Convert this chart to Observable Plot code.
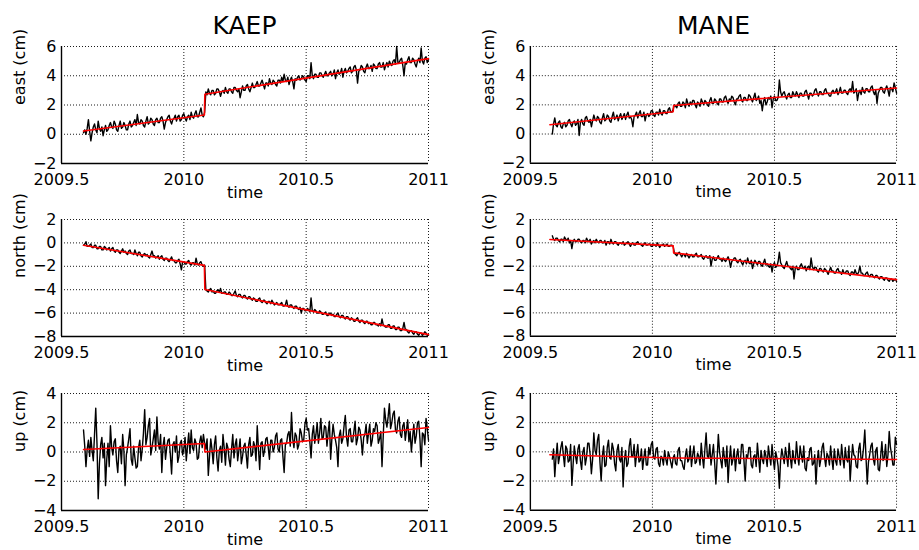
<!DOCTYPE html>
<html>
<head>
<meta charset="utf-8">
<script src="https://cdn.jsdelivr.net/npm/d3@7"></script>
<script src="https://cdn.jsdelivr.net/npm/@observablehq/plot@0.6"></script>
<style>
  html, body { margin: 0; padding: 0; background: #fff; }
  #fig { position: relative; width: 919px; height: 550px; overflow: hidden; font-family: "DejaVu Sans", sans-serif; }
  .title { position: absolute; width: 367px; text-align: center; font-size: 25px; line-height: 25px; color: #000; }
  .cell { position: absolute; }
</style>
</head>
<body>
<div id="fig"></div>
<script>
// Sampling times (decimal years)
const times = [
  2009.590,2009.595,2009.600,2009.605,2009.610,2009.615,2009.620,2009.625,2009.630,2009.635,
  2009.640,2009.645,2009.650,2009.655,2009.660,2009.665,2009.670,2009.675,2009.680,2009.685,
  2009.690,2009.695,2009.700,2009.705,2009.710,2009.715,2009.720,2009.725,2009.730,2009.735,
  2009.740,2009.745,2009.750,2009.755,2009.760,2009.765,2009.770,2009.775,2009.780,2009.785,
  2009.790,2009.795,2009.800,2009.805,2009.810,2009.815,2009.820,2009.825,2009.830,2009.835,
  2009.840,2009.845,2009.850,2009.855,2009.860,2009.865,2009.870,2009.875,2009.880,2009.885,
  2009.890,2009.895,2009.900,2009.905,2009.910,2009.915,2009.920,2009.925,2009.930,2009.935,
  2009.940,2009.945,2009.950,2009.955,2009.960,2009.965,2009.970,2009.975,2009.980,2009.985,
  2009.990,2009.995,2010.000,2010.005,2010.010,2010.015,2010.020,2010.025,2010.030,2010.035,
  2010.040,2010.045,2010.050,2010.055,2010.060,2010.065,2010.070,2010.075,2010.080,2010.085,
  2010.090,2010.095,2010.100,2010.105,2010.110,2010.115,2010.120,2010.125,2010.130,2010.135,
  2010.140,2010.145,2010.150,2010.155,2010.160,2010.165,2010.170,2010.175,2010.180,2010.185,
  2010.190,2010.195,2010.200,2010.205,2010.210,2010.215,2010.220,2010.225,2010.230,2010.235,
  2010.240,2010.245,2010.250,2010.255,2010.260,2010.265,2010.270,2010.275,2010.280,2010.285,
  2010.290,2010.295,2010.300,2010.305,2010.310,2010.315,2010.320,2010.325,2010.330,2010.335,
  2010.340,2010.345,2010.350,2010.355,2010.360,2010.365,2010.370,2010.375,2010.380,2010.385,
  2010.390,2010.395,2010.400,2010.405,2010.410,2010.415,2010.420,2010.425,2010.430,2010.435,
  2010.440,2010.445,2010.450,2010.455,2010.460,2010.465,2010.470,2010.475,2010.480,2010.485,
  2010.490,2010.495,2010.500,2010.505,2010.510,2010.515,2010.520,2010.525,2010.530,2010.535,
  2010.540,2010.545,2010.550,2010.555,2010.560,2010.565,2010.570,2010.575,2010.580,2010.585,
  2010.590,2010.595,2010.600,2010.605,2010.610,2010.615,2010.620,2010.625,2010.630,2010.635,
  2010.640,2010.645,2010.650,2010.655,2010.660,2010.665,2010.670,2010.675,2010.680,2010.685,
  2010.690,2010.695,2010.700,2010.705,2010.710,2010.715,2010.720,2010.725,2010.730,2010.735,
  2010.740,2010.745,2010.750,2010.755,2010.760,2010.765,2010.770,2010.775,2010.780,2010.785,
  2010.790,2010.795,2010.800,2010.805,2010.810,2010.815,2010.820,2010.825,2010.830,2010.835,
  2010.840,2010.845,2010.850,2010.855,2010.860,2010.865,2010.870,2010.875,2010.880,2010.885,
  2010.890,2010.895,2010.900,2010.905,2010.910,2010.915,2010.920,2010.925,2010.930,2010.935,
  2010.940,2010.945,2010.950,2010.955,2010.960,2010.965,2010.970,2010.975,2010.980,2010.985,
  2010.990,2010.995,2011.000
];

// KAEP station (cm)
const kaepEast = [
  0.1,0.3,0.0,0.4,1.0,0.2,-0.45,0.1,0.5,0.7,
  0.3,0.1,0.9,0.4,0.2,0.5,-0.1,0.3,0.6,0.2,
  0.3,0.6,0.8,0.5,0.4,0.9,0.7,0.3,0.2,0.6,
  0.9,0.4,0.5,0.8,0.6,0.3,0.3,0.7,0.9,0.5,
  0.6,0.8,1.0,0.6,1.35,0.8,0.7,1.0,0.9,0.6,
  0.5,0.9,1.2,0.7,0.8,1.1,1.0,0.7,0.6,1.0,
  1.1,0.8,0.8,1.1,1.2,0.9,0.35,0.8,1.0,1.2,
  1.3,0.9,0.7,1.0,1.1,1.3,0.9,1.2,1.3,0.9,
  1.0,1.3,1.4,1.1,0.9,1.2,1.3,1.0,1.5,1.2,
  1.1,1.4,1.6,1.2,1.2,1.5,1.8,1.3,1.2,1.5,
  2.9,2.7,3.1,2.8,2.7,3.0,3.0,2.7,2.8,3.1,
  3.1,2.9,2.6,2.9,3.0,2.8,3.2,2.9,2.8,3.1,
  3.1,2.9,2.8,3.2,3.2,3.0,2.9,3.1,2.5,2.9,
  3.3,3.0,3.0,3.3,3.4,3.1,2.9,3.2,3.5,3.2,
  3.2,3.4,3.6,3.3,3.3,3.5,3.7,3.4,3.1,3.5,
  3.5,3.3,3.8,3.5,3.4,3.7,3.6,3.4,3.3,3.7,
  3.7,3.5,3.9,3.6,4.1,3.7,3.6,3.9,3.4,3.7,
  3.9,3.6,3.1,3.8,3.7,3.9,4.0,3.7,3.8,4.0,
  3.9,3.7,3.6,4.0,4.0,3.8,4.9,4.0,3.8,4.1,
  4.1,3.9,3.9,4.2,4.2,4.0,3.9,4.1,4.3,4.0,
  4.0,4.2,4.3,4.0,4.1,4.4,3.8,4.2,4.4,4.1,
  4.2,4.5,3.9,4.3,4.5,4.2,4.3,4.5,4.6,4.2,
  4.3,4.6,4.7,4.4,3.5,4.3,4.4,4.7,4.6,4.3,
  4.2,4.6,4.8,4.5,4.5,4.7,4.3,4.8,4.7,4.5,
  4.5,4.8,4.9,4.6,4.6,4.9,4.4,4.7,4.9,4.6,
  5.0,4.8,4.7,5.0,5.1,4.8,6.0,4.9,4.9,5.1,
  5.2,4.7,4.0,4.9,4.8,5.1,5.3,4.9,4.9,5.2,
  5.1,4.8,4.6,5.0,5.2,4.9,5.9,5.0,4.8,5.2,
  5.3,4.9,5.1
];
const kaepNorth = [
  -0.2,-0.1,0.1,-0.3,-0.3,-0.2,-0.1,-0.4,-0.4,-0.2,
  -0.2,-0.5,-0.5,-0.3,-0.3,-0.6,-0.6,-0.3,-0.4,-0.6,
  -0.5,-0.4,-0.7,-0.5,-0.4,-0.7,-0.8,-0.6,-0.6,-0.8,
  -0.9,-0.7,-0.5,-0.8,-0.7,-0.9,-1.0,-0.7,-0.6,-0.9,
  -0.9,-1.0,-0.6,-0.9,-1.1,-0.8,-0.8,-1.1,-1.2,-1.0,
  -0.9,-1.1,-1.0,-1.2,-1.3,-1.0,-0.7,-1.1,-1.1,-1.3,
  -1.2,-1.1,-1.4,-1.2,-1.1,-1.4,-1.5,-1.3,-1.3,-1.5,
  -1.6,-1.4,-1.2,-1.5,-1.5,-1.7,-1.7,-1.5,-1.4,-1.8,
  -2.3,-1.6,-1.6,-1.8,-1.8,-1.6,-1.5,-1.8,-1.9,-1.7,
  -1.7,-1.9,-1.3,-1.8,-1.9,-1.7,-1.6,-1.9,-2.0,-1.9,
  -4.0,-4.1,-4.2,-4.0,-3.9,-4.2,-4.1,-4.3,-4.3,-4.1,
  -4.0,-4.2,-3.9,-4.3,-4.3,-4.2,-4.2,-4.4,-4.4,-4.2,
  -4.3,-4.5,-4.5,-4.3,-4.1,-4.5,-4.6,-4.4,-4.4,-4.6,
  -4.7,-4.5,-4.5,-4.7,-4.8,-4.6,-4.6,-4.8,-4.9,-4.7,
  -4.8,-5.0,-5.0,-4.8,-4.7,-5.0,-5.1,-4.9,-4.9,-5.1,
  -5.2,-5.0,-5.0,-5.2,-4.9,-5.1,-5.3,-5.2,-5.1,-5.3,
  -5.3,-5.2,-5.1,-5.4,-5.4,-5.3,-4.9,-5.4,-5.5,-5.3,
  -5.3,-5.5,-5.6,-5.4,-5.4,-5.6,-5.7,-5.5,-6.0,-5.6,
  -5.6,-5.8,-5.8,-5.6,-5.7,-5.9,-4.7,-5.8,-5.9,-5.7,
  -5.8,-6.0,-6.0,-5.8,-5.9,-6.1,-6.1,-6.0,-5.9,-6.2,
  -6.2,-6.0,-6.0,-6.2,-6.1,-6.3,-6.3,-6.1,-6.0,-6.3,
  -6.4,-6.2,-6.2,-6.4,-6.5,-6.3,-6.3,-6.5,-6.6,-6.4,
  -6.5,-6.7,-6.7,-6.5,-6.4,-6.7,-6.8,-6.6,-6.6,-6.8,
  -6.9,-6.7,-6.7,-6.9,-6.8,-7.0,-7.0,-6.8,-6.8,-7.0,
  -7.0,-7.1,-6.9,-7.1,-6.5,-7.0,-7.1,-7.2,-7.2,-7.0,
  -7.0,-7.3,-7.3,-7.1,-7.1,-7.4,-7.4,-7.2,-7.2,-7.5,
  -7.5,-7.3,-6.8,-7.4,-7.4,-7.6,-7.7,-7.5,-7.5,-7.7,
  -7.8,-7.6,-7.6,-7.8,-7.9,-7.7,-7.7,-7.9,-7.8,-7.6,
  -7.7,-7.9,-7.9
];
const kaepUp = [
  1.5,0.4,-1.0,0.2,0.8,-0.3,1.0,0.1,-0.6,1.2,
  3.0,0.6,-3.2,-0.8,0.5,1.0,-0.4,0.6,-2.3,-0.5,
  0.6,-1.0,1.8,0.3,-0.2,0.7,0.9,-0.6,-1.4,0.2,
  0.4,-0.8,1.2,0.1,-2.3,-0.2,0.3,0.9,1.6,-0.5,
  -0.9,0.4,-0.4,-1.1,-1.0,0.3,0.8,-0.6,0.2,1.3,
  2.9,0.5,1.0,1.8,2.3,-0.2,0.3,0.9,1.5,0.1,
  2.4,0.7,0.2,1.2,-1.4,0.4,1.0,-0.5,0.3,0.8,
  0.9,-0.2,-1.5,0.5,0.7,0.0,1.1,-0.7,-0.3,0.6,
  0.8,-0.2,0.2,1.0,-0.6,0.4,1.3,-0.1,1.5,0.3,
  0.1,0.9,0.6,-0.5,-0.4,0.7,1.1,0.3,1.2,0.6,
  0.2,0.9,-1.6,-0.3,0.9,0.2,-0.8,0.5,1.1,-0.4,
  -1.3,0.1,0.4,-0.7,1.2,0.3,-0.9,0.6,0.3,-0.5,
  -1.0,0.2,1.2,-0.4,0.5,0.9,-0.6,0.1,0.9,-0.8,
  -0.3,0.4,0.6,-0.2,-1.1,0.5,1.0,-0.3,-0.2,0.7,
  0.4,-0.6,1.8,0.2,-1.2,0.6,0.7,-0.3,0.1,0.9,
  1.0,0.3,-0.5,0.8,0.8,0.0,0.3,1.1,1.3,0.2,
  0.0,0.8,0.9,-0.3,-1.4,0.5,0.6,1.2,1.4,0.4,
  2.7,0.9,0.3,1.3,1.1,0.2,0.5,1.6,1.3,0.7,
  0.8,1.9,2.3,1.5,1.6,0.7,-0.4,1.2,1.8,0.6,
  1.2,2.0,0.6,1.3,2.3,0.9,1.0,1.8,1.7,0.4,
  1.4,2.1,-0.5,0.9,1.9,1.2,0.8,0.3,-1.0,1.1,
  1.5,0.6,0.9,1.8,2.5,1.0,0.4,1.5,1.6,0.7,
  0.7,1.4,2.1,0.5,0.9,1.7,1.5,0.8,-0.2,1.0,
  1.2,1.9,0.6,1.3,1.9,0.4,0.8,1.6,1.4,2.0,
  1.8,0.6,0.9,1.4,-1.0,1.1,3.0,2.2,1.7,2.4,
  3.3,1.6,2.0,2.6,2.8,1.5,1.3,2.1,2.4,1.2,
  1.0,1.8,2.0,0.8,1.5,2.2,0.7,1.4,0.0,1.0,
  1.9,0.6,1.1,2.0,2.1,0.9,-1.0,1.3,1.2,0.5,
  2.3,1.6,0.8
];

// MANE station (cm)
const maneEast = [
  0.0,0.7,1.1,0.6,0.5,0.8,0.9,0.5,0.4,0.7,
  0.8,0.5,0.6,0.9,1.0,0.7,0.5,0.8,0.9,0.6,
  0.7,1.0,-0.1,0.8,1.0,0.7,0.6,1.1,1.2,0.9,
  0.8,1.0,0.5,0.9,1.3,1.0,0.9,1.2,1.1,0.8,
  0.7,1.1,1.4,0.9,1.0,1.3,1.2,0.9,0.8,1.2,
  1.5,1.0,1.1,1.3,0.9,1.2,1.4,1.0,1.2,1.4,
  1.0,1.3,1.5,1.1,1.2,1.0,0.5,1.2,1.3,1.5,
  1.1,1.4,1.6,1.2,1.2,1.5,0.9,1.3,1.4,1.2,
  1.3,1.6,1.6,1.3,1.2,1.5,1.5,1.3,1.7,1.4,
  1.3,1.6,1.6,1.4,1.4,1.7,1.8,1.5,1.5,1.7,
  2.0,1.9,1.8,2.1,2.2,1.9,1.9,2.2,2.1,1.8,
  2.4,2.1,1.9,2.2,2.0,2.3,2.3,2.0,1.8,2.2,
  2.1,1.9,2.4,2.2,2.0,2.3,2.2,2.0,1.9,2.3,
  2.5,2.1,2.1,2.4,2.3,2.1,2.0,2.4,2.4,2.2,
  2.2,2.5,2.6,2.3,2.1,2.4,2.3,2.6,2.5,2.2,
  2.0,2.4,2.4,2.6,2.7,2.3,2.2,2.5,2.5,2.3,
  2.3,2.7,2.6,2.4,2.2,2.5,2.8,2.3,2.4,2.6,
  2.1,2.3,1.6,2.2,2.5,2.0,2.2,2.5,2.4,2.6,
  1.8,2.4,2.6,2.3,2.3,2.5,3.7,2.9,2.6,2.8,
  2.9,2.6,2.4,2.7,2.8,2.5,2.5,2.9,2.7,2.6,
  2.9,2.7,2.5,2.8,2.8,2.6,2.6,2.9,3.0,2.7,
  2.4,2.8,2.8,2.6,2.7,3.0,3.1,2.8,2.6,2.9,
  2.9,2.7,2.7,3.0,3.1,2.8,2.8,2.6,2.6,2.9,
  3.0,2.8,2.9,3.1,2.7,2.9,3.2,2.8,2.8,3.0,
  3.0,2.8,2.7,3.0,3.1,2.9,3.6,2.8,2.9,3.1,
  2.3,2.8,3.0,2.7,3.2,2.9,2.8,3.1,3.1,2.9,
  2.9,3.2,3.3,2.9,2.7,3.0,2.1,2.8,3.0,3.2,
  3.2,2.9,2.8,3.1,3.3,3.0,2.6,3.2,3.1,2.9,
  3.5,3.2,2.8
];
const maneNorth = [
  0.6,0.3,0.2,0.4,0.4,0.2,0.1,0.3,0.3,0.1,
  0.5,0.3,0.2,0.4,0.0,0.2,-0.5,0.1,0.3,0.1,
  0.1,0.3,0.3,0.1,0.0,0.2,0.2,0.0,0.4,0.2,
  0.1,0.3,-0.1,0.1,0.2,0.0,0.3,0.1,0.0,0.2,
  0.2,0.0,0.0,0.2,-0.2,0.1,0.1,-0.1,0.3,0.0,
  -0.1,0.1,0.1,-0.1,-0.2,0.0,0.0,-0.1,0.1,-0.2,
  -0.1,0.0,0.1,-0.1,-0.3,-0.1,0.0,-0.2,-0.2,0.0,
  0.1,-0.1,-0.1,-0.2,-0.3,-0.1,0.0,-0.2,-0.2,-0.1,
  -0.1,-0.3,-0.3,-0.1,-0.2,-0.3,0.0,-0.2,-0.4,-0.2,
  -0.2,-0.1,-0.3,-0.2,-0.1,-0.3,-0.3,-0.2,-0.2,-0.3,
  -0.9,-1.0,-1.1,-0.9,-0.8,-1.0,-1.2,-1.0,-1.0,-1.2,
  -0.9,-1.1,-1.3,-1.1,-1.0,-1.2,-1.2,-1.0,-0.9,-1.2,
  -1.2,-1.1,-1.0,-1.3,-1.4,-1.2,-1.1,-1.3,-1.3,-1.1,
  -2.0,-1.4,-1.2,-1.5,-1.5,-1.3,-1.1,-1.4,-1.4,-1.6,
  -1.3,-1.5,-1.6,-1.4,-1.2,-1.5,-2.1,-1.6,-1.5,-1.3,
  -1.3,-1.6,-1.7,-1.5,-1.4,-1.7,-1.9,-1.6,-1.5,-1.8,
  -1.3,-1.7,-1.8,-1.5,-2.2,-1.8,-1.5,-1.7,-1.9,-1.6,
  -1.6,-1.9,-2.0,-1.7,-1.4,-1.9,-1.8,-2.0,-2.1,-1.8,
  -2.5,-1.9,-1.7,-2.1,-2.0,-1.6,-0.8,-1.7,-1.9,-2.1,
  -2.2,-1.9,-1.6,-2.0,-2.0,-2.2,-2.3,-2.0,-3.1,-2.2,
  -2.0,-2.3,-2.3,-2.0,-1.8,-2.1,-2.2,-2.0,-2.4,-2.1,
  -2.0,-2.3,-1.3,-2.0,-2.3,-2.1,-2.1,-2.4,-2.5,-2.2,
  -2.2,-2.4,-2.5,-2.2,-2.3,-2.5,-2.7,-2.4,-2.1,-2.4,
  -2.4,-2.6,-2.6,-2.3,-2.2,-2.5,-2.5,-2.7,-2.3,-2.6,
  -2.6,-2.4,-2.4,-2.7,-2.8,-2.5,-2.5,-2.7,-2.3,-2.6,
  -2.7,-2.5,-2.0,-2.6,-2.6,-2.8,-2.8,-2.6,-2.5,-2.8,
  -2.9,-2.7,-2.7,-2.9,-3.0,-2.8,-2.8,-3.0,-3.1,-2.9,
  -2.9,-3.1,-3.2,-3.0,-3.0,-3.2,-3.3,-3.1,-3.1,-3.3,
  -3.2,-3.1,-3.3
];
const maneUp = [
  -0.5,0.2,-1.7,-0.4,0.6,-0.8,-0.3,0.3,0.7,-0.2,
  -1.0,0.4,0.2,-0.7,-0.6,0.5,-2.3,-0.9,0.4,-0.3,
  -0.8,0.2,0.5,-0.6,-1.2,0.0,0.3,-0.9,-0.4,0.6,
  0.6,-0.2,-1.5,-0.5,1.3,0.1,-0.2,0.8,1.2,-0.7,
  -2.0,-0.3,0.4,-1.0,-0.9,0.3,0.8,-0.4,-0.5,0.6,
  0.2,-0.8,-1.3,0.1,0.5,-0.5,-0.7,0.3,-2.4,-0.6,
  0.1,-1.0,-0.8,0.4,0.9,-0.3,-0.3,0.5,-1.0,-0.2,
  0.5,-0.7,-0.6,0.2,-1.2,-0.4,0.2,-0.9,-0.9,0.3,
  -0.2,0.5,0.7,-0.4,-0.5,0.2,0.3,-0.8,-1.0,-0.3,
  -0.4,-0.9,0.1,-0.5,-0.9,0.0,-0.3,-0.7,-1.1,-0.4,
  -0.2,-0.8,-0.9,0.1,0.3,-0.6,-0.6,-1.0,-1.2,-0.3,
  0.2,-0.7,-0.5,0.4,-1.0,-0.2,0.4,-0.8,-0.7,-0.1,
  -0.3,-0.9,0.6,-0.4,-1.1,0.2,1.3,-0.3,-0.4,0.5,
  -0.9,-0.2,0.5,-0.8,-2.2,-0.5,1.2,0.0,-0.6,-1.1,
  0.3,-0.4,-1.0,0.4,-2.1,-0.6,0.4,-0.9,-0.5,0.2,
  -1.3,-0.3,0.2,-0.8,-0.8,0.5,0.5,-0.6,-2.0,-0.2,
  -0.4,0.3,0.3,-0.9,-1.1,-0.3,-0.2,-1.0,0.6,-0.4,
  -1.4,0.1,-0.5,-0.8,0.1,-0.3,-1.0,0.4,-0.3,-0.9,
  0.5,-0.5,-1.2,0.0,-0.4,-1.0,-2.5,-0.6,0.2,-0.3,
  -0.8,0.3,-0.3,-1.0,0.6,-0.4,-1.1,0.1,-0.5,-0.8,
  0.7,-0.3,-0.9,0.4,-0.2,-0.7,0.4,-1.1,-1.3,-0.4,
  -0.6,0.2,0.3,-0.9,-0.8,-0.2,-2.2,-0.6,0.1,-1.0,
  -0.5,0.3,0.6,-0.4,-1.0,-0.1,-0.3,-0.9,0.4,-0.5,
  -1.2,0.2,-0.6,-0.9,0.2,-0.3,-0.9,0.5,-0.4,-1.1,
  0.3,-0.5,-0.7,0.4,-2.0,-0.6,0.5,-0.2,-0.3,-1.0,
  -1.1,0.2,0.6,-0.6,-0.5,0.3,1.5,-0.4,-2.2,-0.7,
  -0.2,0.4,0.6,-0.5,-0.9,0.1,0.3,-1.2,-1.3,-0.3,
  0.7,-0.6,-0.4,0.5,-1.0,-0.2,1.4,0.3,-0.2,-0.9,
  -0.9,1.0,0.5
];

// Fitted models (red)
const kaepFitTimes = [2009.59, 2010.084, 2010.086, 2011.0];
const kaepFitEast  = [0.22, 1.32, 2.74, 5.17];
const kaepFitNorth = [-0.2, -1.92, -3.98, -7.84];
const kaepFitUp    = [0.17, 0.58, 0.0, 1.68];
const maneFitTimes = [2009.58, 2010.085, 2010.087, 2011.0];
const maneFitEast  = [0.64, 1.53, 1.96, 3.15];
const maneFitNorth = [0.28, -0.26, -0.86, -3.15];
const maneFitUp    = [-0.2, -0.42, -0.42, -0.52];

// Axes
const xTicks = [2009.5, 2010, 2010.5, 2011];
const eastTicks = [-2, 0, 2, 4, 6];
const northTicks = [-8, -6, -4, -2, 0, 2];
const upTicks = [-4, -2, 0, 2, 4];
const stations = ["KAEP", "MANE"];
const yLabels = ["east (cm)", "north (cm)", "up (cm)"];

const fmt = d => d < 0 ? "\u2212" + Math.abs(d) : String(d);

function panel(values, fitT, fitV, ticks, ylabel, col) {
  const ml = col === 0 ? 61 : 70;
  const mr = 460 - ml - 367;
  const data = times.map((t, i) => ({t, v: values[i]}));
  const fit = fitT.map((t, i) => ({t, v: fitV[i]}));
  const dom = [ticks[0], ticks[ticks.length - 1]];
  const grid = {stroke: "black", strokeOpacity: 1, strokeWidth: 0.9, strokeDasharray: "1,2"};
  return Plot.plot({
    width: 460, height: 167,
    marginTop: 10, marginBottom: 40, marginLeft: ml, marginRight: mr,
    x: {domain: [2009.5, 2011]},
    y: {domain: dom},
    style: {fontFamily: "DejaVu Sans, sans-serif", fontSize: "16px", background: "none", overflow: "visible", color: "black"},
    marks: [
      Plot.gridY(ticks.slice(1), grid),
      Plot.gridX(xTicks.slice(1), grid),
      Plot.line(data, {x: "t", y: "v", stroke: "black", strokeWidth: 1.4, strokeLinejoin: "round"}),
      Plot.line(fit, {x: "t", y: "v", stroke: "red", strokeWidth: 1.6}),
      Plot.ruleY([dom[0]], {stroke: "black", strokeWidth: 1.4}),
      Plot.ruleX([2009.5], {stroke: "black", strokeWidth: 1.4}),
      Plot.axisX(xTicks, {tickSize: 0, tickPadding: 10, tickFormat: d => String(d), fontSize: 16, label: null}),
      Plot.axisY(ticks, {tickSize: 0, tickPadding: 5, tickFormat: fmt, fontSize: 16, label: null}),
      Plot.text(["time"], {frameAnchor: "bottom", dy: 34, fontSize: 16, fill: "black"}),
      Plot.text([ylabel], {frameAnchor: "left", dx: -42, rotate: -90, fontSize: 16, fill: "black"})
    ]
  });
}

const fig = document.getElementById("fig");
const rowTops = [36, 209, 383];
const colLefts = [0, 460];
const panels = [
  [[kaepEast, kaepFitTimes, kaepFitEast, eastTicks], [maneEast, maneFitTimes, maneFitEast, eastTicks]],
  [[kaepNorth, kaepFitTimes, kaepFitNorth, northTicks], [maneNorth, maneFitTimes, maneFitNorth, northTicks]],
  [[kaepUp, kaepFitTimes, kaepFitUp, upTicks], [maneUp, maneFitTimes, maneFitUp, upTicks]]
];

stations.forEach((s, c) => {
  const d = document.createElement("div");
  d.className = "title";
  d.style.left = (colLefts[c] + (c === 0 ? 61 : 70)) + "px";
  d.style.top = "13px";
  d.textContent = s;
  fig.appendChild(d);
});

panels.forEach((row, r) => {
  row.forEach((p, c) => {
    const wrap = document.createElement("div");
    wrap.className = "cell";
    wrap.style.left = colLefts[c] + "px";
    wrap.style.top = rowTops[r] + "px";
    wrap.appendChild(panel(p[0], p[1], p[2], p[3], yLabels[r], c));
    fig.appendChild(wrap);
  });
});
</script>
</body>
</html>
